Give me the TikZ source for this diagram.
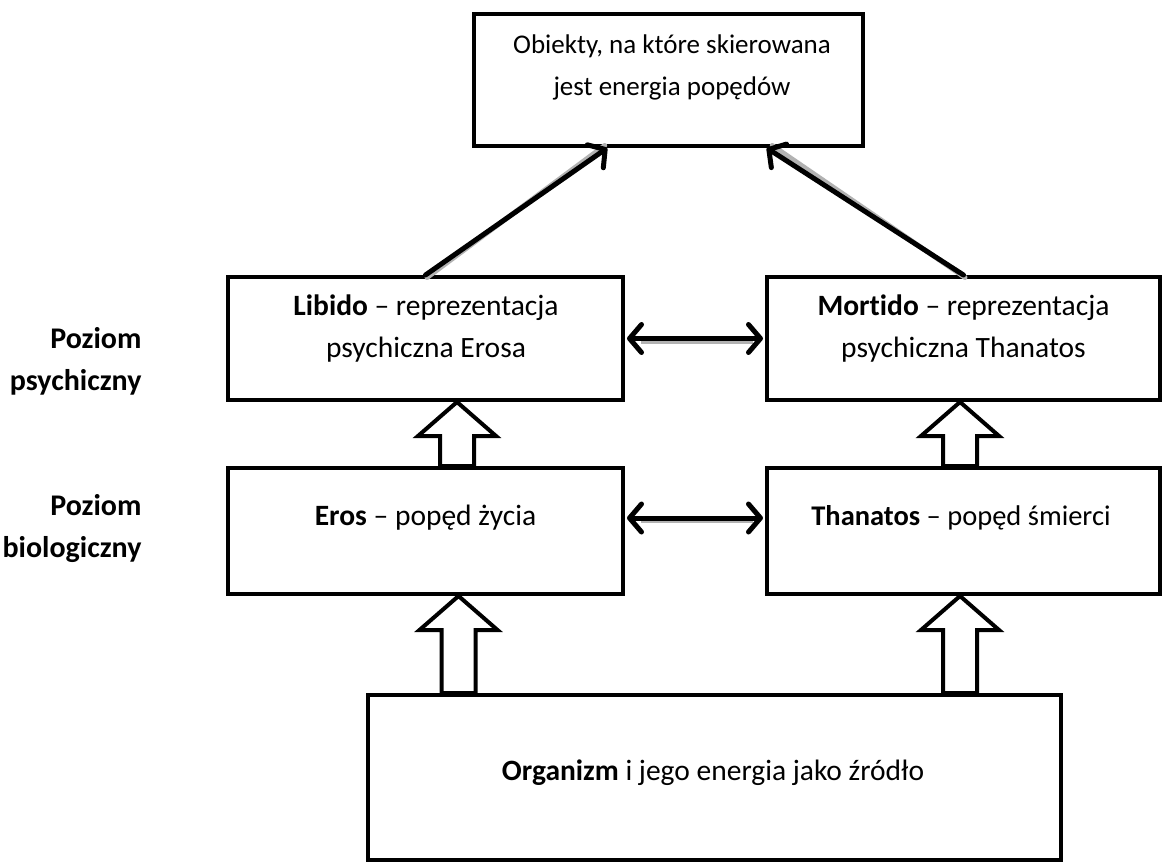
\documentclass[tikz,border=0pt]{standalone}
\usepackage{fontspec}
\setmainfont{Carlito}[Ligatures=NoCommon]
\usetikzlibrary{arrows.meta,calc}

\tikzset{
  box/.style={draw, line width=4pt, fill=white, inner sep=0pt},
  txt/.style={align=center, font=\fontsize{#1}{42}\selectfont},
  txt/.default=29.5,
  side/.style={align=right, anchor=east, font=\fontsize{30}{42}\selectfont\bfseries},
  barb/.style={line width=5pt, line cap=round,
    arrows={-Straight Barb[round, length=12pt, width=28pt]}},
  barbboth/.style={line width=5pt, line cap=round,
    arrows={Straight Barb[round, length=12pt, width=28pt]-Straight Barb[round, length=12pt, width=28pt]}},
  shade/.style={draw=black!30, line width=5pt, transform canvas={shift={(1.5pt,-2.5pt)}}},
  blockarr/.style={draw, line width=4pt, fill=white, line join=miter},
}

% hollow upward block arrow: #1 tip, #2 foot of the shaft
\newcommand\hollowup[2]{%
  \draw[blockarr] let \p1=#1, \p2=#2 in
    (\x1,\y1) -- (\x1+39pt,\y1-34pt) -- (\x1+17pt,\y1-34pt) -- (\x1+17pt,\y2)
    -- (\x1-17pt,\y2) -- (\x1-17pt,\y1-34pt) -- (\x1-39pt,\y1-34pt) -- cycle;}

\begin{document}
\begin{tikzpicture}[x=1pt, y=-1pt]
  \useasboundingbox[fill=white] (0,0) rectangle (1166,867);

  % boxes
  \node[box, minimum width=389pt, minimum height=132pt] (obj) at (668.5,80) {};
  \node[box, minimum width=395pt, minimum height=123pt] (lib) at (425.5,338.5) {};
  \node[box, minimum width=393pt, minimum height=123pt] (mort) at (963.5,338.5) {};
  \node[box, minimum width=395pt, minimum height=126pt] (eros) at (425.5,531) {};
  \node[box, minimum width=393pt, minimum height=126pt] (than) at (963.5,531) {};
  \node[box, minimum width=693pt, minimum height=165pt] (org) at (714.5,777.5) {};

  % texts
  \node[txt=27] (tobj) at (672,67) {Obiekty, na które skierowana\\jest energia popędów};
  \node[txt] (tlib) at (426,329) {\textbf{Libido} – reprezentacja\\psychiczna Erosa};
  \node[txt] (tmort) at (963.5,329) {\textbf{Mortido} – reprezentacja\\psychiczna Thanatos};
  \node[txt] (teros) at (425.5,518) {\textbf{Eros} – popęd życia};
  \node[txt=28.5] (tthan) at (961,518) {\textbf{Thanatos} – popęd śmierci};
  \node[txt] (torg) at (713,773) {\textbf{Organizm} i jego energia jako źródło};

  % level labels
  \node[side] (lpsy) at (145,361) {Poziom\\psychiczny};
  \node[side] (lbio) at (145,529) {Poziom\\biologiczny};

  % target points on the upper box
  \coordinate (objL) at ($(obj.south west)!0.344!(obj.south east)$);
  \coordinate (objR) at ($(obj.south west)!0.75!(obj.south east)$);

  % shadows of the line arrows
  \draw[shade, line cap=round] (lib.north) -- ([shift={(-4pt,5pt)}]objL);
  \draw[shade, line cap=round] (mort.north) -- ([shift={(4pt,5pt)}]objR);
  \draw[shade] ([xshift=14pt]lib.east) -- ([xshift=-14pt]mort.west);
  \draw[shade] ([shift={(14pt,13pt)}]eros.east) -- ([shift={(-14pt,13pt)}]than.west);

  % line arrows
  \draw[barb] (lib.north) -- (objL);
  \draw[barb] (mort.north) -- (objR);
  \draw[barbboth, shorten <=2pt, shorten >=2pt] (lib.east) -- (mort.west);
  \draw[barbboth, shorten <=2pt, shorten >=2pt] ([yshift=13pt]eros.east) -- ([yshift=13pt]than.west);

  % hollow block arrows
  \hollowup{($(lib.south)+(31.5,0)$)}{($(eros.north)+(31.5,0)$)}
  \hollowup{($(mort.south)+(-3.5,0)$)}{($(than.north)+(-3.5,0)$)}
  \hollowup{($(eros.south)+(33,0)$)}{($(org.north west)!0.132!(org.north east)$)}
  \hollowup{($(than.south)+(-3.5,0)$)}{($(org.north west)!0.85!(org.north east)$)}
\end{tikzpicture}
\end{document}
